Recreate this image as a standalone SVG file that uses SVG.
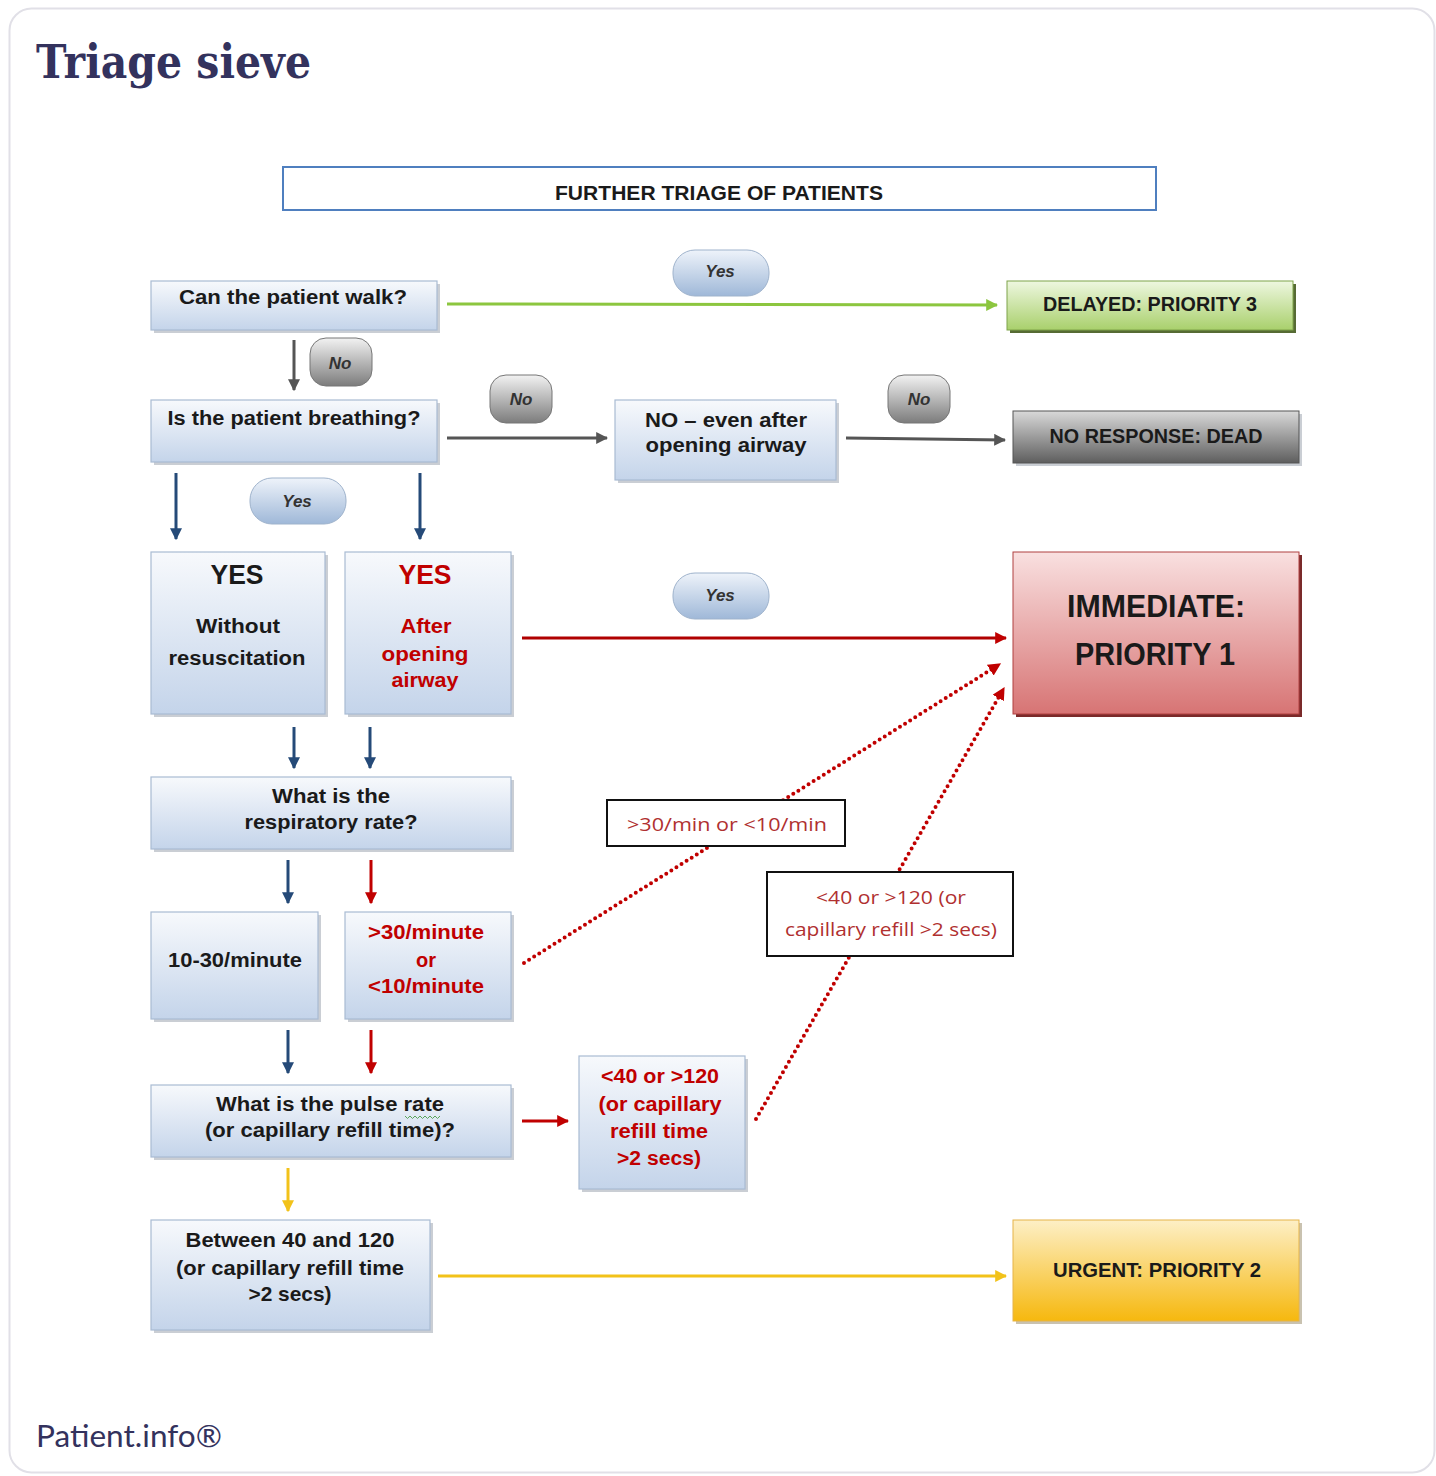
<svg xmlns="http://www.w3.org/2000/svg" width="1436" height="1476" viewBox="0 0 1436 1476">
<defs>
<linearGradient id="gBox" x1="0" y1="0" x2="0" y2="1"><stop offset="0" stop-color="#f7f9fc"/><stop offset="1" stop-color="#c4d4ea"/></linearGradient>
<linearGradient id="gGreen" x1="0" y1="0" x2="0" y2="1"><stop offset="0" stop-color="#eef7e0"/><stop offset="1" stop-color="#a9d06c"/></linearGradient>
<linearGradient id="gGray" x1="0" y1="0" x2="0" y2="1"><stop offset="0" stop-color="#d9d9d9"/><stop offset="1" stop-color="#5e5e5e"/></linearGradient>
<linearGradient id="gRed" x1="0" y1="0" x2="0" y2="1"><stop offset="0" stop-color="#f9e0e0"/><stop offset="1" stop-color="#d77474"/></linearGradient>
<linearGradient id="gOrange" x1="0" y1="0" x2="0" y2="1"><stop offset="0" stop-color="#fdefc6"/><stop offset="1" stop-color="#f6b80e"/></linearGradient>
<linearGradient id="gYes" x1="0" y1="0" x2="0" y2="1"><stop offset="0" stop-color="#eef3fa"/><stop offset="1" stop-color="#9fb8d8"/></linearGradient>
<linearGradient id="gNo" x1="0" y1="0" x2="0" y2="1"><stop offset="0" stop-color="#f2f2f2"/><stop offset="1" stop-color="#7c7c7c"/></linearGradient>
<marker id="mGray" viewBox="0 0 10 10" refX="9" refY="5" markerWidth="4" markerHeight="4" orient="auto"><path d="M0,0L10,5L0,10z" fill="#555"/></marker>
<marker id="mNavy" viewBox="0 0 10 10" refX="9" refY="5" markerWidth="4" markerHeight="4" orient="auto"><path d="M0,0L10,5L0,10z" fill="#254a78"/></marker>
<marker id="mRed" viewBox="0 0 10 10" refX="9" refY="5" markerWidth="4" markerHeight="4" orient="auto"><path d="M0,0L10,5L0,10z" fill="#c00000"/></marker>
<marker id="mRedDot" viewBox="0 0 10 10" refX="9" refY="5" markerWidth="3.2" markerHeight="3.2" orient="auto"><path d="M0,0L10,5L0,10z" fill="#c00000"/></marker>
<marker id="mGreen" viewBox="0 0 10 10" refX="9" refY="5" markerWidth="4" markerHeight="4" orient="auto"><path d="M0,0L10,5L0,10z" fill="#8cc63f"/></marker>
<marker id="mYellow" viewBox="0 0 10 10" refX="9" refY="5" markerWidth="4" markerHeight="4" orient="auto"><path d="M0,0L10,5L0,10z" fill="#f2c21a"/></marker>
</defs>
<style>
.box{fill:url(#gBox);stroke:#a9bbd3;stroke-width:1.2}
.sh{fill:#9ea6b0;opacity:0.55}
.t{font-family:"Liberation Sans",Arial,sans-serif;font-weight:bold;font-size:20px;fill:#1a1a1a;text-anchor:middle}
.n{font-family:"Liberation Sans Narrow","Liberation Sans",Arial,sans-serif;font-weight:bold;font-size:21px;fill:#1a1a1a;text-anchor:middle}
.big{font-size:28px}
.huge{font-size:32px}
.r{fill:#c00000}
.lbl{font-family:"Open Sans","Liberation Sans",sans-serif;font-size:19px;fill:#b03030;text-anchor:middle}
.pillT{font-family:"Liberation Sans",Arial,sans-serif;font-weight:bold;font-style:italic;font-size:17px;fill:#333;text-anchor:middle}
.c{fill:none;stroke-width:3}
.dot{fill:none;stroke:#c00000;stroke-width:4;stroke-dasharray:0 6;stroke-linecap:round}
</style>
<rect x="9.5" y="8.5" width="1425" height="1464" rx="22" fill="#fff" stroke="#e1e0e7" stroke-width="2"/>
<text x="36" y="78" font-family="'DejaVu Serif','Liberation Serif',serif" font-weight="bold" font-size="47" fill="#33325d" textLength="275" lengthAdjust="spacingAndGlyphs">Triage sieve</text>
<text x="36" y="1447" font-family="Lato,'Open Sans',sans-serif" font-size="30" fill="#33325d" textLength="186" lengthAdjust="spacingAndGlyphs">Patient.info®</text>

<g id="connectors">
<line class="c" x1="447" y1="304" x2="997" y2="305" stroke="#8cc63f" marker-end="url(#mGreen)"/>
<line class="c" x1="294" y1="340" x2="294" y2="390" stroke="#555" marker-end="url(#mGray)"/>
<line class="c" x1="447" y1="438" x2="607" y2="438" stroke="#555" marker-end="url(#mGray)"/>
<line class="c" x1="846" y1="438" x2="1005" y2="440" stroke="#555" marker-end="url(#mGray)"/>
<line class="c" x1="176" y1="473" x2="176" y2="539" stroke="#254a78" marker-end="url(#mNavy)"/>
<line class="c" x1="420" y1="473" x2="420" y2="539" stroke="#254a78" marker-end="url(#mNavy)"/>
<line class="c" x1="522" y1="638" x2="1006" y2="638" stroke="#b00000" marker-end="url(#mRed)"/>
<line class="c" x1="294" y1="727" x2="294" y2="768" stroke="#254a78" marker-end="url(#mNavy)"/>
<line class="c" x1="370" y1="727" x2="370" y2="768" stroke="#254a78" marker-end="url(#mNavy)"/>
<line class="c" x1="288" y1="860" x2="288" y2="903" stroke="#254a78" marker-end="url(#mNavy)"/>
<line class="c" x1="371" y1="860" x2="371" y2="903" stroke="#c00000" marker-end="url(#mRed)"/>
<line class="c" x1="288" y1="1030" x2="288" y2="1073" stroke="#254a78" marker-end="url(#mNavy)"/>
<line class="c" x1="371" y1="1030" x2="371" y2="1073" stroke="#c00000" marker-end="url(#mRed)"/>
<line class="c" x1="522" y1="1121" x2="568" y2="1121" stroke="#c00000" marker-end="url(#mRed)"/>
<line class="c" x1="288" y1="1168" x2="288" y2="1211" stroke="#f2c21a" marker-end="url(#mYellow)"/>
<line class="c" x1="438" y1="1276" x2="1006" y2="1276" stroke="#f2c21a" marker-end="url(#mYellow)"/>
<path class="dot" d="M524,963 L1000,664" marker-end="url(#mRedDot)"/>
<path class="dot" d="M756,1119 L1004,688" marker-end="url(#mRedDot)"/>
</g>

<g id="header"><rect x="283" y="167" width="873" height="43" fill="#fff" stroke="#4f7fbf" stroke-width="2"/><text class="t" x="719" y="200" textLength="328" lengthAdjust="spacingAndGlyphs">FURTHER TRIAGE OF PATIENTS</text></g>

<g id="walk"><rect class="sh" x="154" y="284" width="286" height="49"/><rect class="box" x="151" y="281" width="286" height="49"/><text class="t" x="293" y="304" textLength="228" lengthAdjust="spacingAndGlyphs">Can the patient walk?</text></g>
<g id="yes1"><rect x="673" y="250" width="96" height="46" rx="22" fill="url(#gYes)" stroke="#9fb3cc"/><text class="pillT" x="720" y="277">Yes</text></g>
<g id="delayed"><rect x="1010" y="284" width="286" height="49" fill="#566b34"/><rect x="1007" y="281" width="286" height="49" fill="url(#gGreen)" stroke="#7fa34a"/><text class="n" x="1150" y="311" textLength="214" lengthAdjust="spacingAndGlyphs">DELAYED: PRIORITY 3</text></g>

<g id="no1"><rect x="310" y="338" width="62" height="48" rx="16" fill="url(#gNo)" stroke="#777"/><text class="pillT" x="340" y="369">No</text></g>

<g id="breathing"><rect class="sh" x="154" y="403" width="286" height="62"/><rect class="box" x="151" y="400" width="286" height="62"/><text class="t" x="294" y="425" textLength="253" lengthAdjust="spacingAndGlyphs">Is the patient breathing?</text></g>
<g id="no2"><rect x="490" y="375" width="62" height="48" rx="16" fill="url(#gNo)" stroke="#777"/><text class="pillT" x="521" y="405">No</text></g>
<g id="noAfter"><rect class="sh" x="618" y="403" width="221" height="80"/><rect class="box" x="615" y="400" width="221" height="80"/><text class="n" x="726" y="427" textLength="162" lengthAdjust="spacingAndGlyphs">NO – even after</text><text class="n" x="726" y="452" textLength="161" lengthAdjust="spacingAndGlyphs">opening airway</text></g>
<g id="no3"><rect x="888" y="375" width="62" height="48" rx="16" fill="url(#gNo)" stroke="#777"/><text class="pillT" x="919" y="405">No</text></g>
<g id="dead"><rect class="sh" x="1016" y="414" width="286" height="52"/><rect x="1013" y="411" width="286" height="52" fill="url(#gGray)" stroke="#555"/><text class="n" x="1156" y="443" textLength="213" lengthAdjust="spacingAndGlyphs">NO RESPONSE: DEAD</text></g>

<g id="yes2"><rect x="250" y="478" width="96" height="46" rx="22" fill="url(#gYes)" stroke="#9fb3cc"/><text class="pillT" x="297" y="507">Yes</text></g>

<g id="yesWithout"><rect class="sh" x="154" y="555" width="174" height="162"/><rect class="box" x="151" y="552" width="174" height="162"/><text class="t big" x="237" y="584" textLength="53" lengthAdjust="spacingAndGlyphs">YES</text><text class="t" x="238" y="633" textLength="84" lengthAdjust="spacingAndGlyphs">Without</text><text class="t" x="237" y="665" textLength="137" lengthAdjust="spacingAndGlyphs">resuscitation</text></g>
<g id="yesAfter"><rect class="sh" x="348" y="555" width="166" height="162"/><rect class="box" x="345" y="552" width="166" height="162"/><text class="t r big" x="425" y="584" textLength="53" lengthAdjust="spacingAndGlyphs">YES</text><text class="t r" x="426" y="633" textLength="51" lengthAdjust="spacingAndGlyphs">After</text><text class="t r" x="425" y="661" textLength="87" lengthAdjust="spacingAndGlyphs">opening</text><text class="t r" x="425" y="687" textLength="67" lengthAdjust="spacingAndGlyphs">airway</text></g>

<g id="yes3"><rect x="673" y="573" width="96" height="46" rx="22" fill="url(#gYes)" stroke="#9fb3cc"/><text class="pillT" x="720" y="601">Yes</text></g>
<g id="immediate"><rect x="1016" y="555" width="286" height="162" fill="#7a2a2a"/><rect x="1013" y="552" width="286" height="162" fill="url(#gRed)" stroke="#b04040"/><text class="n huge" x="1156" y="617" textLength="178" lengthAdjust="spacingAndGlyphs">IMMEDIATE:</text><text class="n huge" x="1155" y="665" textLength="160" lengthAdjust="spacingAndGlyphs">PRIORITY 1</text></g>

<g id="respiratory"><rect class="sh" x="154" y="780" width="360" height="72"/><rect class="box" x="151" y="777" width="360" height="72"/><text class="t" x="331" y="803" textLength="118" lengthAdjust="spacingAndGlyphs">What is the</text><text class="t" x="331" y="829" textLength="173" lengthAdjust="spacingAndGlyphs">respiratory rate?</text></g>

<g id="lblResp"><rect x="607" y="800" width="238" height="46" fill="#fff" stroke="#111" stroke-width="2"/><text class="lbl" x="727" y="831" textLength="200" lengthAdjust="spacingAndGlyphs">&gt;30/min or &lt;10/min</text></g>

<g id="normalResp"><rect class="sh" x="154" y="915" width="167" height="107"/><rect class="box" x="151" y="912" width="167" height="107"/><text class="t" x="235" y="967" textLength="134" lengthAdjust="spacingAndGlyphs">10-30/minute</text></g>
<g id="abnormalResp"><rect class="sh" x="348" y="915" width="166" height="107"/><rect class="box" x="345" y="912" width="166" height="107"/><text class="t r" x="426" y="939" textLength="116" lengthAdjust="spacingAndGlyphs">&gt;30/minute</text><text class="t r" x="426" y="967">or</text><text class="t r" x="426" y="993" textLength="116" lengthAdjust="spacingAndGlyphs">&lt;10/minute</text></g>

<g id="lblPulse"><rect x="767" y="872" width="246" height="84" fill="#fff" stroke="#111" stroke-width="2"/><text class="lbl" x="891" y="904" textLength="150" lengthAdjust="spacingAndGlyphs">&lt;40 or &gt;120 (or</text><text class="lbl" x="891" y="936" textLength="212" lengthAdjust="spacingAndGlyphs">capillary refill &gt;2 secs)</text></g>

<g id="pulse"><rect class="sh" x="154" y="1088" width="360" height="72"/><rect class="box" x="151" y="1085" width="360" height="72"/><text class="t" x="330" y="1111" textLength="228" lengthAdjust="spacingAndGlyphs">What is the pulse rate</text><text class="t" x="330" y="1137" textLength="250" lengthAdjust="spacingAndGlyphs">(or capillary refill time)?</text><path d="M405,1116 l2.5,2.5 l2.5,-2.5 l2.5,2.5 l2.5,-2.5 l2.5,2.5 l2.5,-2.5 l2.5,2.5 l2.5,-2.5 l2.5,2.5 l2.5,-2.5 l2.5,2.5 l2.5,-2.5 l2.5,2.5 l2.5,-2.5" fill="none" stroke="#5aa55a" stroke-width="1"/></g>

<g id="abnormalPulse"><rect class="sh" x="582" y="1059" width="166" height="133"/><rect class="box" x="579" y="1056" width="166" height="133"/><text class="t r" x="660" y="1083" textLength="118" lengthAdjust="spacingAndGlyphs">&lt;40 or &gt;120</text><text class="t r" x="660" y="1111" textLength="123" lengthAdjust="spacingAndGlyphs">(or capillary</text><text class="t r" x="659" y="1138" textLength="98" lengthAdjust="spacingAndGlyphs">refill time</text><text class="t r" x="659" y="1165" textLength="84" lengthAdjust="spacingAndGlyphs">&gt;2 secs)</text></g>

<g id="normalPulse"><rect class="sh" x="154" y="1223" width="279" height="110"/><rect class="box" x="151" y="1220" width="279" height="110"/><text class="n" x="290" y="1247" textLength="209" lengthAdjust="spacingAndGlyphs">Between 40 and 120</text><text class="n" x="290" y="1275" textLength="228" lengthAdjust="spacingAndGlyphs">(or capillary refill time</text><text class="n" x="290" y="1301" textLength="83" lengthAdjust="spacingAndGlyphs">&gt;2 secs)</text></g>

<g id="urgent"><rect x="1016" y="1223" width="286" height="101" fill="#c9c2b0"/><rect x="1013" y="1220" width="286" height="101" fill="url(#gOrange)" stroke="#e6b448"/><text class="n" x="1157" y="1277" textLength="208" lengthAdjust="spacingAndGlyphs">URGENT: PRIORITY 2</text></g>
</svg>
